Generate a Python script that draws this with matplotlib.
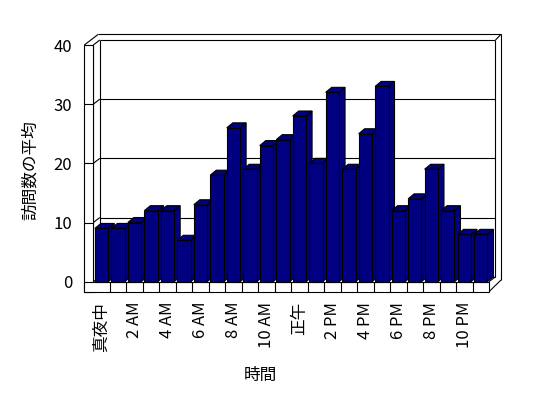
import matplotlib
matplotlib.use("Agg")
import matplotlib.pyplot as plt
from matplotlib.patches import Polygon, Rectangle

plt.rcParams['font.family'] = ['Noto Sans CJK JP', 'DejaVu Sans']

hours = list(range(24))
values = [9, 9, 10, 12, 12, 7, 13, 18, 26, 19, 23, 24,
          28, 20, 32, 19, 25, 33, 12, 14, 19, 12, 8, 8]
tick_positions = list(range(0, 24, 2))
tick_labels = ['真夜中', '2 AM', '4 AM', '6 AM', '8 AM', '10 AM',
               '正午', '2 PM', '4 PM', '6 PM', '8 PM', '10 PM']
y_ticks = [0, 10, 20, 30, 40]
x_title = '時間'
y_title = '訪問数の平均'

W, H = 548, 398
fig = plt.figure(figsize=(W / 100, H / 100), dpi=100)

# front plane in pixels
fx0, fx1, fy_top, fy_bot = 93.3, 489.0, 45.0, 281.7
ax = fig.add_axes([fx0 / W, (H - fy_bot) / H, (fx1 - fx0) / W, (fy_bot - fy_top) / H])
xmin, xmax = -0.5, 23.5
ymin, ymax = 0, 40
ax.set_xlim(xmin, xmax)
ax.set_ylim(ymin, ymax)
ax.set_facecolor('none')
for s in ax.spines.values():
    s.set_visible(False)

pxx = (xmax - xmin) / (fx1 - fx0)      # data units per px (x)
pxy = (ymax - ymin) / (fy_bot - fy_top)  # data units per px (y)

lw = 0.8
navy = '#000080'
k = 'black'

def line(xs, ys, z=1):
    ax.plot(xs, ys, color=k, lw=lw, clip_on=False, zorder=z, solid_capstyle='butt')

# wall depth offset
Dx, Dy = 6.5 * pxx, 5.0 * pxy
thick = 9.0 * pxx      # left wall thickness
fthick = 10.0 * pxy    # floor thickness

# back wall gridlines & wall outline
for v in y_ticks[1:]:
    line([xmin + Dx, xmax + Dx], [v + Dy, v + Dy])
    line([xmin, xmin + Dx], [v, v + Dy])
line([xmin + Dx, xmax + Dx], [ymin + Dy, ymin + Dy])
line([xmin, xmin + Dx], [ymin, ymin + Dy])
line([xmin + Dx, xmin + Dx], [ymin + Dy, ymax + Dy])
line([xmin, xmin], [ymin, ymax])
line([xmax + Dx, xmax + Dx], [ymin + Dy, ymax + Dy])

# left wall front face (thickness)
ax.add_patch(Rectangle((xmin - thick, ymin - fthick), thick, ymax - ymin + fthick,
                       facecolor='white', edgecolor=k, lw=lw, clip_on=False, zorder=2))
for v in y_ticks[1:-1]:
    line([xmin - thick, xmin], [v, v], z=2.1)
# top of left wall / back wall
line([xmin - thick, xmin - thick + 14 * pxx], [ymax, ymax + 10.7 * pxy])
top_out = ymax + 10.7 * pxy
line([xmin - thick + 14 * pxx, xmax + 12 * pxx], [top_out, top_out])
line([xmax + Dx, xmax + 12 * pxx], [ymax + Dy, top_out])
line([xmax + 12 * pxx, xmax + 12 * pxx], [top_out, ymin + 1.7 * pxy])
line([xmax, xmax + 12 * pxx], [ymin - fthick, ymin + 1.7 * pxy])
line([xmax, xmax + Dx], [ymin, ymin + Dy])

# floor front face
ax.add_patch(Rectangle((xmin - thick, ymin - fthick), xmax - xmin + thick, fthick,
                       facecolor='white', edgecolor=k, lw=lw, clip_on=False, zorder=2))
for b in range(1, 24):
    line([b - 0.5, b - 0.5], [ymin - fthick, ymin], z=2.1)

# bars
bw = 0.81
bdx, bdy = 6.0 * pxx, 5.0 * pxy
bars = ax.bar(hours, values, width=bw, color=navy, edgecolor=k, linewidth=lw)
for i, (x, v) in enumerate(zip(hours, values)):
    z = 3 + i * 0.01
    l, r = x - bw / 2, x + bw / 2
    top = Polygon([(l, v), (r, v), (r + bdx, v + bdy), (l + bdx, v + bdy)],
                  closed=True, facecolor=navy, edgecolor=k, lw=lw, zorder=z, clip_on=False)
    side = Polygon([(r, 0), (r + bdx, bdy), (r + bdx, v + bdy), (r, v)],
                   closed=True, facecolor=navy, edgecolor=k, lw=lw, zorder=z, clip_on=False)
    ax.add_patch(side)
    ax.add_patch(top)
    bars.patches[i].set_zorder(z + 0.005)
    bars.patches[i].set_clip_on(False)

fs = 12
ax.set_yticks(y_ticks)
ax.set_yticklabels([str(t) for t in y_ticks], fontsize=fs)
ax.tick_params(axis='y', length=0, pad=15.3)
ax.set_xticks(tick_positions)
ax.set_xticklabels(tick_labels, rotation=90, fontsize=fs)
ax.tick_params(axis='x', length=0, pad=14.5)

fig.text(260 / W, 1 - 375.5 / H, x_title, fontsize=fs, ha='center', va='center')
fig.text(30 / W, 1 - 170 / H, y_title, fontsize=fs, ha='center', va='center', rotation=90)

fig.savefig('out.png', dpi=100, facecolor='white')
